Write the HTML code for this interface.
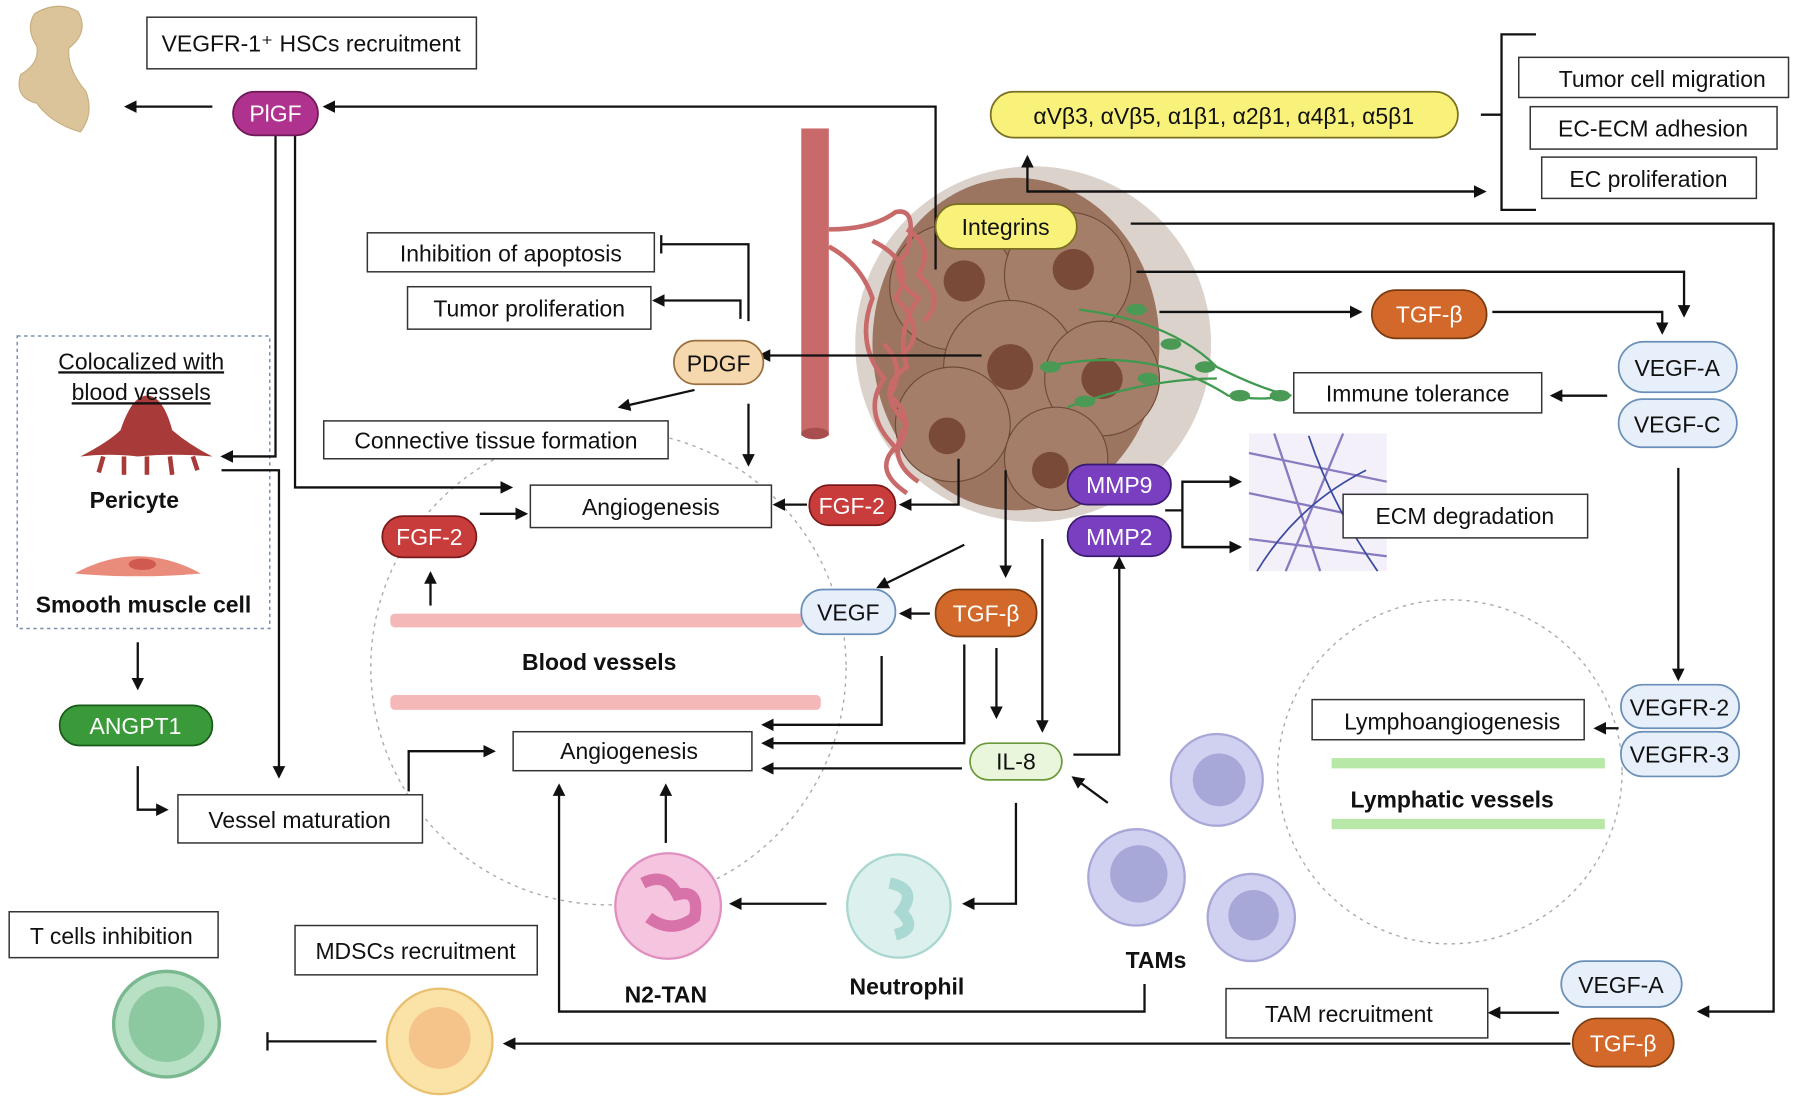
<!DOCTYPE html>
<html><head><meta charset="utf-8"><style>
html,body{margin:0;padding:0;background:#fff}
svg{display:block}
text{font-family:"Liberation Sans","DejaVu Sans",sans-serif}
</style></head><body>
<svg width="1800" height="1101" viewBox="0 0 1568 960" preserveAspectRatio="none" xmlns="http://www.w3.org/2000/svg">
<defs>
<marker id="a" markerWidth="11" markerHeight="11" refX="9" refY="5.5" orient="auto" markerUnits="userSpaceOnUse"><path d="M0,0 L11,5.5 L0,11 z" fill="#111"/></marker>
</defs>
<rect width="1568" height="960" fill="#fff"/>

<circle cx="530" cy="582" r="207" fill="none" stroke="#aaa" stroke-width="1.2" stroke-dasharray="3,4"/>
<circle cx="1263" cy="673" r="150" fill="none" stroke="#aaa" stroke-width="1.2" stroke-dasharray="3,4"/>

<path d="M30,12 Q50,0 68,10 Q78,28 60,42 Q58,60 75,80 Q82,100 70,115 Q45,108 32,90 Q12,85 18,65 Q35,55 32,40 Q22,25 30,12z" fill="#dcc49a" stroke="#c8ae80"/>

<!-- tumor -->
<g>
<ellipse cx="900" cy="300" rx="155" ry="155" fill="#dcd2cc"/>
<ellipse cx="885" cy="300" rx="125" ry="145" fill="#9c7560"/>
<circle cx="830" cy="250" r="55" fill="#a47e68" stroke="#6e4a38"/>
<circle cx="930" cy="240" r="55" fill="#a47e68" stroke="#6e4a38"/>
<circle cx="880" cy="320" r="58" fill="#a47e68" stroke="#6e4a38"/>
<circle cx="960" cy="330" r="50" fill="#a47e68" stroke="#6e4a38"/>
<circle cx="830" cy="370" r="50" fill="#a47e68" stroke="#6e4a38"/>
<circle cx="920" cy="400" r="45" fill="#a47e68" stroke="#6e4a38"/>
<circle cx="840" cy="245" r="18" fill="#7a4a38"/><circle cx="935" cy="235" r="18" fill="#7a4a38"/>
<circle cx="880" cy="320" r="20" fill="#7a4a38"/><circle cx="960" cy="330" r="18" fill="#7a4a38"/>
<circle cx="825" cy="380" r="16" fill="#7a4a38"/><circle cx="915" cy="410" r="16" fill="#7a4a38"/>
<path d="M940,270 Q1020,280 1060,320 Q1100,340 1125,345" stroke="#3f9a4f" stroke-width="2" fill="none"/>
<path d="M910,320 Q1000,300 1070,345 Q1100,350 1120,345" stroke="#3f9a4f" stroke-width="2" fill="none"/>
<path d="M930,355 Q1000,330 1060,330" stroke="#3f9a4f" stroke-width="2" fill="none"/>
<g fill="#4a9a55"><ellipse cx="990" cy="270" rx="9" ry="5"/><ellipse cx="1020" cy="300" rx="9" ry="5"/><ellipse cx="1050" cy="320" rx="9" ry="5"/><ellipse cx="1080" cy="345" rx="9" ry="5"/><ellipse cx="945" cy="350" rx="9" ry="5"/><ellipse cx="1000" cy="330" rx="9" ry="5"/><ellipse cx="1115" cy="345" rx="9" ry="5"/><ellipse cx="915" cy="320" rx="9" ry="5"/></g>
</g>
<rect x="698" y="112" width="24" height="268" fill="#c86a6a"/>
<ellipse cx="710" cy="378" rx="12" ry="5" fill="#a84e4e"/>
<g stroke="#c86a6a" stroke-width="4" fill="none">
<path d="M722,200 Q760,200 780,185 Q800,180 790,220 Q770,240 800,260 Q780,290 790,320 Q760,340 790,370 Q770,400 800,420"/>
<path d="M722,215 Q750,230 760,260 Q745,300 770,330 Q750,360 780,390 Q760,410 790,430"/>
<path d="M760,210 Q800,230 780,260 Q810,290 785,310"/>
<path d="M770,300 Q790,320 775,345 Q800,365 780,395"/>
<path d="M790,200 Q815,215 800,240 Q825,260 805,280"/>
</g>

<g fill="#fff" stroke="#333" stroke-width="1.3">
<rect x="128" y="15" width="287" height="45"/>
<rect x="320" y="203" width="250" height="34"/>
<rect x="355" y="250" width="212" height="37"/>
<rect x="282" y="367" width="300" height="33"/>
<rect x="462" y="423" width="210" height="37"/>
<rect x="447" y="638" width="208" height="34"/>
<rect x="155" y="693" width="213" height="42"/>
<rect x="8" y="795" width="182" height="40"/>
<rect x="257" y="807" width="211" height="43"/>
<rect x="1323" y="50" width="235" height="35"/>
<rect x="1333" y="93" width="215" height="37"/>
<rect x="1343" y="137" width="187" height="36"/>
<rect x="1127" y="325" width="216" height="35"/>
<rect x="1143" y="610" width="237" height="35"/>
<rect x="1068" y="862" width="228" height="43"/>
</g>
<rect x="15" y="293" width="220" height="255" fill="none" stroke="#7a90b0" stroke-width="1.3" stroke-dasharray="3,3"/>

<rect x="1088" y="378" width="120" height="120" fill="#f3f0fa"/>
<g stroke="#8a7ac0" stroke-width="2" fill="none"><path d="M1088,395 L1208,420"/><path d="M1088,430 L1208,455"/><path d="M1088,470 L1208,485"/><path d="M1110,378 L1150,498"/><path d="M1170,378 L1120,498"/></g>
<g stroke="#3a4aa0" stroke-width="1.5" fill="none"><path d="M1140,380 Q1160,440 1200,498"/><path d="M1095,498 Q1130,440 1190,410"/></g>
<rect x="1170" y="431" width="213" height="38" fill="#fff" stroke="#333" stroke-width="1.3"/>

<rect x="340" y="535" width="360" height="12" rx="4" fill="#f4b8b8"/>
<rect x="340" y="606" width="375" height="13" rx="4" fill="#f4b8b8"/>
<rect x="1160" y="661" width="238" height="9" fill="#b8e8a8"/>
<rect x="1160" y="714" width="238" height="9" fill="#b8e8a8"/>

<path d="M70,398 Q95,385 105,375 Q115,345 128,345 Q142,345 150,375 Q165,388 185,398 Q150,395 120,398 Q95,395 70,398z" fill="#a83a3a"/>
<g stroke="#a83a3a" stroke-width="4"><line x1="90" y1="398" x2="86" y2="412"/><line x1="108" y1="398" x2="108" y2="414"/><line x1="128" y1="398" x2="128" y2="414"/><line x1="148" y1="398" x2="150" y2="414"/><line x1="168" y1="398" x2="172" y2="410"/></g>
<path d="M65,500 Q120,470 175,500 Q120,505 65,500z" fill="#ea8c7c"/>
<ellipse cx="124" cy="492" rx="12" ry="5" fill="#d05a50"/>

<circle cx="145" cy="893" r="46" fill="#b8e0c4" stroke="#7ab890" stroke-width="3"/><circle cx="145" cy="893" r="33" fill="#8cc8a0"/>
<circle cx="383" cy="908" r="46" fill="#fbe3a8" stroke="#e8c070" stroke-width="2"/><circle cx="383" cy="905" r="27" fill="#f5c48a"/>
<circle cx="582" cy="790" r="46" fill="#f5c4de" stroke="#e090c0" stroke-width="2"/><path d="M560,770 Q580,760 590,780 Q610,775 605,800 Q585,815 565,800" fill="none" stroke="#d873aa" stroke-width="10"/>
<circle cx="783" cy="790" r="45" fill="#dcf0ee" stroke="#a8d6d0" stroke-width="2"/><path d="M775,770 Q800,775 785,795 Q800,810 780,815" fill="none" stroke="#aad8d2" stroke-width="10"/>
<g fill="#d0d0f0" stroke="#a8a8d8" stroke-width="2">
<circle cx="1060" cy="680" r="40"/><circle cx="990" cy="765" r="42"/><circle cx="1090" cy="800" r="38"/></g>
<g fill="#a8a8d8"><circle cx="1062" cy="680" r="23"/><circle cx="992" cy="762" r="25"/><circle cx="1092" cy="798" r="22"/></g>

<g stroke="#111" stroke-width="2" fill="none">
<line x1="185" y1="93" x2="110" y2="93" marker-end="url(#a)"/>
<polyline points="815,235 815,93 283,93" marker-end="url(#a)"/>
<polyline points="240,118 240,398 194,398" marker-end="url(#a)"/>
<polyline points="257,118 257,425 445,425" marker-end="url(#a)"/>
<polyline points="193,410 243,410 243,677" marker-end="url(#a)"/>
<line x1="120" y1="560" x2="120" y2="600" marker-end="url(#a)"/>
<polyline points="120,668 120,706 145,706" marker-end="url(#a)"/>
<polyline points="356,690 356,655 430,655" marker-end="url(#a)"/>
<polyline points="652,280 652,213 576,213"/>
<line x1="576" y1="205" x2="576" y2="221"/>
<polyline points="645,278 645,262 570,262" marker-end="url(#a)"/>
<line x1="855" y1="310" x2="662" y2="310" marker-end="url(#a)"/>
<line x1="605" y1="340" x2="540" y2="355" marker-end="url(#a)"/>
<line x1="652" y1="352" x2="652" y2="405" marker-end="url(#a)"/>
<line x1="703" y1="440" x2="675" y2="440" marker-end="url(#a)"/>
<polyline points="835,400 835,440 785,440" marker-end="url(#a)"/>
<line x1="418" y1="448" x2="458" y2="448" marker-end="url(#a)"/>
<line x1="375" y1="528" x2="375" y2="500" marker-end="url(#a)"/>
<line x1="840" y1="475" x2="765" y2="512" marker-end="url(#a)"/>
<line x1="810" y1="535" x2="785" y2="535" marker-end="url(#a)"/>
<polyline points="768,572 768,632 665,632" marker-end="url(#a)"/>
<polyline points="840,562 840,648 665,648" marker-end="url(#a)"/>
<line x1="868" y1="565" x2="868" y2="625" marker-end="url(#a)"/>
<line x1="838" y1="670" x2="665" y2="670" marker-end="url(#a)"/>
<line x1="876" y1="410" x2="876" y2="502" marker-end="url(#a)"/>
<line x1="908" y1="470" x2="908" y2="637" marker-end="url(#a)"/>
<polyline points="935,658 975,658 975,487" marker-end="url(#a)"/>
<line x1="1015" y1="445" x2="1030" y2="445"/>
<polyline points="1080,420 1030,420 1030,477 1080,477"/>
<line x1="1030" y1="420" x2="1080" y2="420" marker-end="url(#a)"/>
<line x1="1030" y1="477" x2="1080" y2="477" marker-end="url(#a)"/>
<line x1="965" y1="700" x2="935" y2="678" marker-end="url(#a)"/>
<polyline points="885,700 885,788 840,788" marker-end="url(#a)"/>
<line x1="720" y1="788" x2="637" y2="788" marker-end="url(#a)"/>
<line x1="580" y1="735" x2="580" y2="685" marker-end="url(#a)"/>
<polyline points="997,858 997,882 487,882 487,685" marker-end="url(#a)"/>
<polyline points="1290,167 895,167 895,137" marker-end="url(#a)"/>
<line x1="895" y1="167" x2="1293" y2="167" marker-end="url(#a)"/>
<line x1="1290" y1="100" x2="1308" y2="100"/>
<polyline points="1338,30 1308,30 1308,183 1338,183"/>
<polyline points="985,195 1545,195 1545,882 1480,882" marker-end="url(#a)"/>
<polyline points="990,237 1467,237 1467,275" marker-end="url(#a)"/>
<line x1="1010" y1="272" x2="1185" y2="272" marker-end="url(#a)"/>
<polyline points="1300,272 1448,272 1448,290" marker-end="url(#a)"/>
<line x1="1400" y1="345" x2="1352" y2="345" marker-end="url(#a)"/>
<line x1="1462" y1="408" x2="1462" y2="592" marker-end="url(#a)"/>
<line x1="1410" y1="635" x2="1390" y2="635" marker-end="url(#a)"/>
<line x1="1358" y1="883" x2="1298" y2="883" marker-end="url(#a)"/>
<line x1="1368" y1="910" x2="440" y2="910" marker-end="url(#a)"/>
<line x1="328" y1="908" x2="233" y2="908"/>
<line x1="233" y1="900" x2="233" y2="916"/>
</g>

<g stroke-width="1.5">
<rect x="203" y="80" width="74" height="38" rx="19" fill="#b0328f" stroke="#6e1a58"/>
<rect x="587" y="297" width="78" height="38" rx="19" fill="#f6d8ae" stroke="#9a7040"/>
<rect x="705" y="423" width="75" height="35" rx="17" fill="#c83c3c" stroke="#7a1a1a"/>
<rect x="333" y="450" width="82" height="36" rx="18" fill="#c83c3c" stroke="#7a1a1a"/>
<rect x="698" y="514" width="82" height="39" rx="19" fill="#e6effa" stroke="#6a8fb8"/>
<rect x="815" y="514" width="88" height="41" rx="20" fill="#d2692a" stroke="#7a3a10"/>
<rect x="845" y="648" width="80" height="32" rx="16" fill="#eaf6dc" stroke="#6a9a3a"/>
<rect x="930" y="405" width="90" height="35" rx="17" fill="#7a3fc0" stroke="#3a1a70"/>
<rect x="930" y="450" width="90" height="35" rx="17" fill="#7a3fc0" stroke="#3a1a70"/>
<rect x="52" y="615" width="133" height="35" rx="17" fill="#3a9a3a" stroke="#1a5a1a"/>
<rect x="815" y="178" width="123" height="39" rx="19" fill="#f8f27a" stroke="#7a7020"/>
<rect x="863" y="80" width="407" height="40" rx="20" fill="#f8f27a" stroke="#7a7020"/>
<rect x="1195" y="253" width="100" height="42" rx="21" fill="#d2692a" stroke="#7a3a10"/>
<rect x="1410" y="298" width="103" height="44" rx="22" fill="#e6effa" stroke="#6a8fb8"/>
<rect x="1410" y="348" width="103" height="42" rx="21" fill="#e6effa" stroke="#6a8fb8"/>
<rect x="1412" y="597" width="103" height="38" rx="19" fill="#e6effa" stroke="#6a8fb8"/>
<rect x="1412" y="638" width="103" height="39" rx="19" fill="#e6effa" stroke="#6a8fb8"/>
<rect x="1360" y="838" width="105" height="40" rx="20" fill="#e6effa" stroke="#6a8fb8"/>
<rect x="1370" y="888" width="88" height="42" rx="21" fill="#d2692a" stroke="#7a3a10"/>
</g>

<g font-size="20" fill="#111" text-anchor="middle">
<text x="271" y="45">VEGFR-1⁺ HSCs recruitment</text>
<text x="445" y="228">Inhibition of apoptosis</text>
<text x="461" y="276">Tumor proliferation</text>
<text x="432" y="391">Connective tissue formation</text>
<text x="567" y="449">Angiogenesis</text>
<text x="548" y="662">Angiogenesis</text>
<text x="261" y="722">Vessel maturation</text>
<text x="97" y="823">T cells inhibition</text>
<text x="362" y="836">MDSCs recruitment</text>
<text x="1448" y="76">Tumor cell migration</text>
<text x="1440" y="119">EC-ECM adhesion</text>
<text x="1436" y="163">EC proliferation</text>
<text x="1235" y="350">Immune tolerance</text>
<text x="1276" y="457">ECM degradation</text>
<text x="1265" y="636">Lymphoangiogenesis</text>
<text x="1175" y="891">TAM recruitment</text>
<text x="123" y="322" text-decoration="underline">Colocalized with</text>
<text x="123" y="349" text-decoration="underline">blood vessels</text>
<text x="240" y="106" fill="#fff">PlGF</text>
<text x="626" y="324">PDGF</text>
<text x="742" y="448" fill="#fff">FGF-2</text>
<text x="374" y="475" fill="#fff">FGF-2</text>
<text x="739" y="541">VEGF</text>
<text x="859" y="542" fill="#fff">TGF-β</text>
<text x="885" y="671">IL-8</text>
<text x="975" y="430" fill="#fff">MMP9</text>
<text x="975" y="475" fill="#fff">MMP2</text>
<text x="118" y="640" fill="#fff">ANGPT1</text>
<text x="876" y="205">Integrins</text>
<text x="1066" y="108">αVβ3, αVβ5, α1β1, α2β1, α4β1, α5β1</text>
<text x="1245" y="281" fill="#fff">TGF-β</text>
<text x="1461" y="328">VEGF-A</text>
<text x="1461" y="377">VEGF-C</text>
<text x="1463" y="624">VEGFR-2</text>
<text x="1463" y="665">VEGFR-3</text>
<text x="1412" y="866">VEGF-A</text>
<text x="1414" y="917" fill="#fff">TGF-β</text>
</g>
<g font-size="20" font-weight="bold" fill="#111" text-anchor="middle">
<text x="117" y="443">Pericyte</text>
<text x="125" y="534">Smooth muscle cell</text>
<text x="522" y="584">Blood vessels</text>
<text x="1265" y="704">Lymphatic vessels</text>
<text x="790" y="867">Neutrophil</text>
<text x="580" y="874">N2-TAN</text>
<text x="1007" y="844">TAMs</text>
</g>
</svg>
</body></html>
